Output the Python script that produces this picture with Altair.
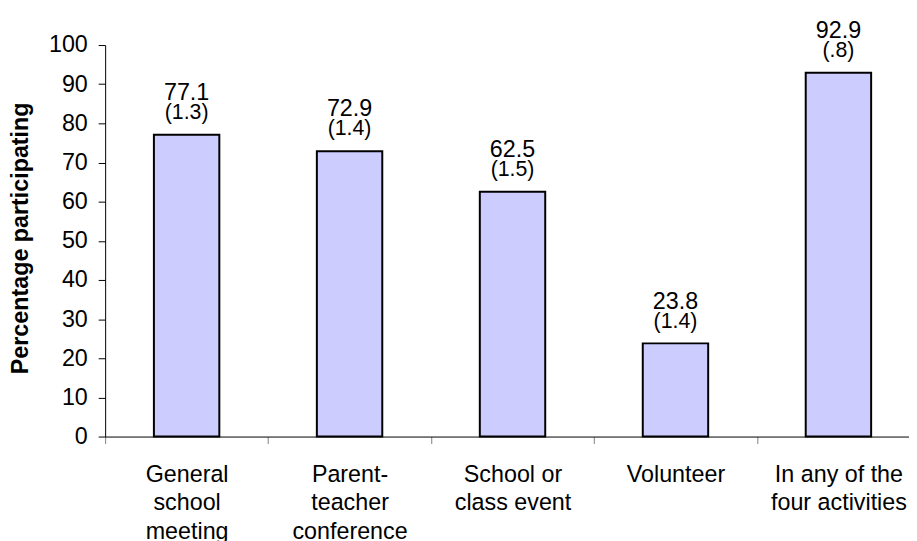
import altair as alt
import pandas as pd

categories = [
    "General\nschool\nmeeting",
    "Parent-\nteacher\nconference",
    "School or\nclass event",
    "Volunteer",
    "In any of the\nfour activities",
]
percentages = [77.1, 72.9, 62.5, 23.8, 92.9]
std_errors = ["(1.3)", "(1.4)", "(1.5)", "(1.4)", "(.8)"]
y_ticks = [0, 10, 20, 30, 40, 50, 60, 70, 80, 90, 100]

df = pd.DataFrame({"category": categories, "pct": percentages, "se": std_errors})
df["pct_label"] = df["pct"].map(lambda v: f"{v:.1f}")

FONT = "Liberation Sans"
FS = 23.5
PLOT_W = 803
RANGE_W = 822
PLOT_H = 395

x_bars = alt.X(
    "category:N",
    sort=categories,
    scale=alt.Scale(range=[0, RANGE_W], paddingInner=0, paddingOuter=0),
    axis=alt.Axis(
        title=None,
        labelAngle=0,
        labelExpr="split(datum.label, '\\n')",
        tickBand="extent",
        labelFont=FONT,
        labelFontSize=FS,
        labelLineHeight=29,
        labelBaseline="top",
        labelPadding=19,
        labelColor="#000",
        tickSize=7,
        tickColor="#808080",
        domainColor="#000",
        labelOverlap=False,
    ),
)
x_text = alt.X("category:N", sort=categories)

y_enc = alt.Y(
    "pct:Q",
    scale=alt.Scale(domain=[0, 100], nice=False),
    axis=alt.Axis(
        values=y_ticks,
        labelOverlap=False,
        labelFlush=False,
        title="Percentage participating",
        titleFont=FONT,
        titleFontSize=FS,
        titleFontWeight="bold",
        titleColor="#000",
        titleX=-85,
        titleY=PLOT_H / 2 - 3,
        titleAngle=270,
        titleAlign="center",
        titleBaseline="middle",
        labelFont=FONT,
        labelFontSize=FS,
        labelColor="#000",
        labelPadding=11,
        tickSize=7,
        tickColor="#000",
        domainColor="#000",
        grid=False,
    ),
)

bars = alt.Chart(df).mark_bar(
    size=66, fill="#CCCCFF", stroke="#000", strokeWidth=2
).encode(x=x_bars, y=y_enc)

val_text = alt.Chart(df).mark_text(
    dy=-42, baseline="middle", font=FONT, fontSize=FS, color="#000"
).encode(x=x_text, y=y_enc, text="pct_label:N")

se_text = alt.Chart(df).mark_text(
    dy=-22, baseline="middle", font=FONT, fontSize=FS - 2, color="#000"
).encode(x=x_text, y=y_enc, text="se:N")

chart = (
    alt.layer(bars, val_text, se_text)
    .properties(
        width=PLOT_W,
        height=PLOT_H,
        autosize=alt.AutoSizeParams(type="none"),
        padding={"left": 98, "top": 35, "right": 8, "bottom": 103},
        background="white",
    )
    .configure_view(stroke=None)
)

chart.save("out.html", embed_options={"renderer": "svg", "actions": False})
